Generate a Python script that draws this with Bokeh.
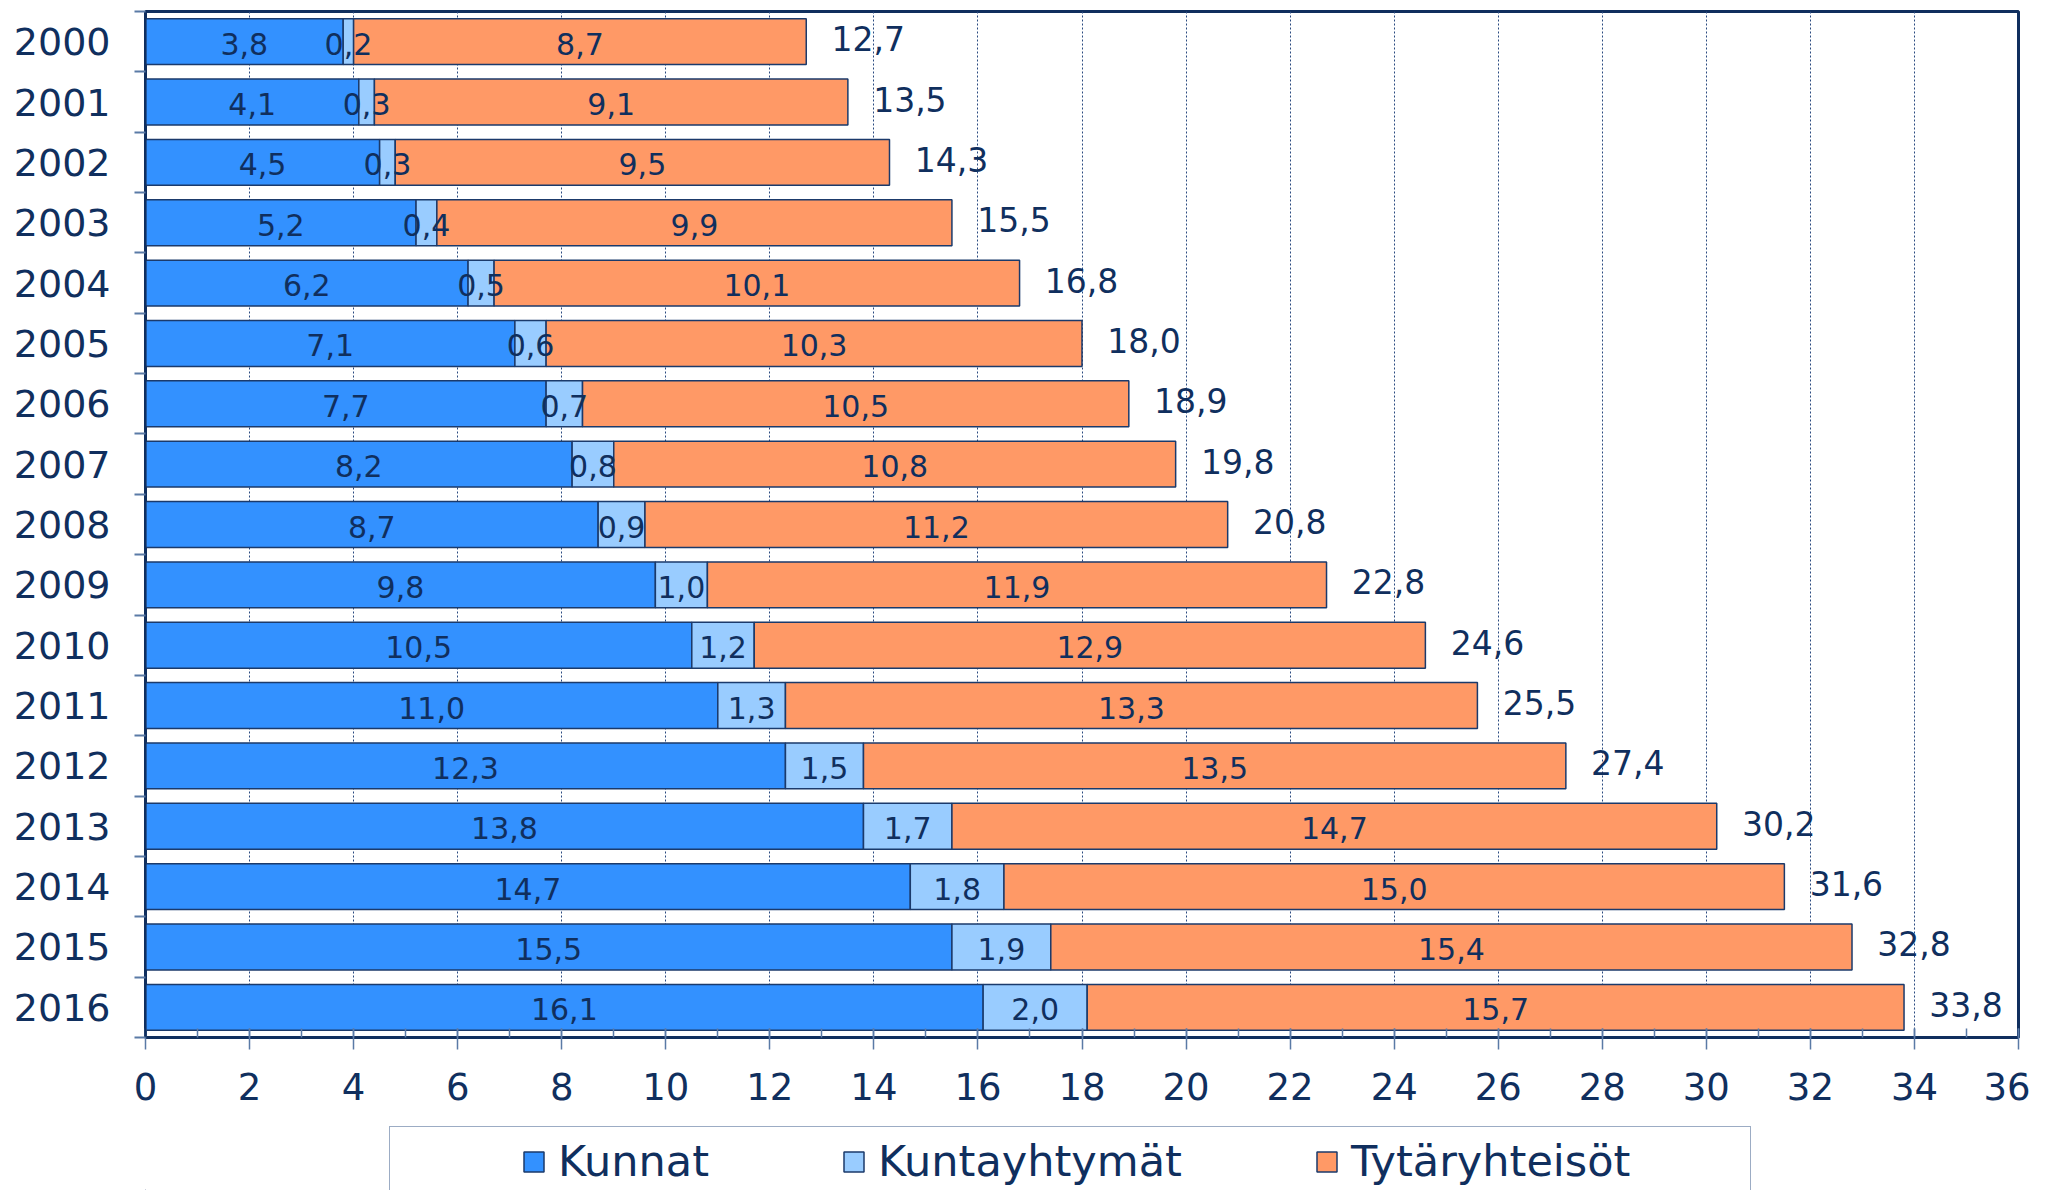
import numpy as np
from bokeh.plotting import figure
from bokeh.layouts import column
from bokeh.models import (ColumnDataSource, Range1d, FixedTicker, SingleIntervalTicker,
                          Legend, LegendItem)
from bokeh.embed import file_html
from bokeh.resources import INLINE
from bokeh.core.properties import value

# ---------------- data ----------------
years = ["2000", "2001", "2002", "2003", "2004", "2005", "2006", "2007", "2008",
         "2009", "2010", "2011", "2012", "2013", "2014", "2015", "2016"]
kunnat = [3.8, 4.1, 4.5, 5.2, 6.2, 7.1, 7.7, 8.2, 8.7, 9.8, 10.5, 11.0, 12.3, 13.8, 14.7, 15.5, 16.1]
kuntayhtymat = [0.2, 0.3, 0.3, 0.4, 0.5, 0.6, 0.7, 0.8, 0.9, 1.0, 1.2, 1.3, 1.5, 1.7, 1.8, 1.9, 2.0]
tytaryhteisot = [8.7, 9.1, 9.5, 9.9, 10.1, 10.3, 10.5, 10.8, 11.2, 11.9, 12.9, 13.3, 13.5, 14.7, 15.0, 15.4, 15.7]
totals = [12.7, 13.5, 14.3, 15.5, 16.8, 18.0, 18.9, 19.8, 20.8, 22.8, 24.6, 25.5, 27.4, 30.2, 31.6, 32.8, 33.8]
series_names = ["Kunnat", "Kuntayhtymät", "Tytäryhteisöt"]
series_colors = ["#3391FF", "#99CCFF", "#FF9966"]

FONT = "DejaVu Sans"
NAVY = "#102F5E"
OUTLINE = "#1B3A6B"
TICKC = "#5A7AA6"


def fmt(v):
    return f"{v:.1f}".replace(".", ",")


idx = list(range(len(years)))
src = ColumnDataSource(dict(y=idx, kunnat=kunnat, kuntayhtymat=kuntayhtymat,
                            tytaryhteisot=tytaryhteisot))

W = 2030
H1 = 1112
H2 = 78
FRAME_LEFT = 145
p = figure(width=W, height=H1, output_backend="svg", toolbar_location=None,
           x_range=Range1d(0, 36), y_range=Range1d(len(years) - 0.5, -0.5),
           min_border_left=FRAME_LEFT, min_border_right=12, min_border_top=11,
           min_border_bottom=H1 - 1037)
p.background_fill_color = "white"
p.border_fill_color = "white"
p.outline_line_color = NAVY
p.outline_line_width = 3

# x axis
xt = SingleIntervalTicker(interval=2, num_minor_ticks=2)
p.xaxis.ticker = xt
p.xgrid.ticker = xt
p.xgrid.grid_line_color = "#2A4A80"
p.xgrid.grid_line_dash = "2 2"
p.xgrid.grid_line_width = 1
p.ygrid.visible = False
xa = p.xaxis[0]
xa.axis_line_color = NAVY
xa.axis_line_width = 3
xa.major_tick_in = 9
xa.major_tick_out = 12
xa.minor_tick_in = 9
xa.minor_tick_out = 0
xa.major_tick_line_color = TICKC
xa.minor_tick_line_color = TICKC
xa.major_tick_line_width = 1.5
xa.minor_tick_line_width = 1.5
xa.major_label_text_font = FONT
xa.major_label_text_font_size = "37px"
xa.major_label_text_color = NAVY
xa.major_label_standoff = 23

# y axis (years)
ya = p.yaxis[0]
ya.ticker = FixedTicker(ticks=idx, minor_ticks=[i - 0.5 for i in range(len(years) + 1)])
ya.major_label_overrides = {i: y for i, y in zip(idx, years)}
ya.major_tick_in = 0
ya.major_tick_out = 0
ya.minor_tick_in = 0
ya.minor_tick_out = 11
ya.minor_tick_line_color = TICKC
ya.minor_tick_line_width = 2
ya.axis_line_color = NAVY
ya.axis_line_width = 2
ya.major_label_text_font = FONT
ya.major_label_text_font_size = "38px"
ya.major_label_text_color = NAVY
ya.major_label_standoff = 24

# bars
renderers = p.hbar_stack(["kunnat", "kuntayhtymat", "tytaryhteisot"], y="y", height=0.76,
                         fill_color=series_colors, line_color=OUTLINE, line_width=1.5,
                         source=src)

# segment labels
k = np.array(kunnat)
ky = np.array(kuntayhtymat)
t = np.array(tytaryhteisot)
c2 = k + ky
c3 = c2 + t
seg_x = np.concatenate([k / 2, k + ky / 2, c2 + t / 2])
seg_y = idx * 3
seg_text = [fmt(v) for v in np.concatenate([k, ky, t])]
p.text(x=seg_x, y=seg_y, text=seg_text, text_align="center", text_baseline="middle",
       y_offset=2, text_font=value(FONT), text_font_size="30px", text_color=NAVY)

# total labels
p.text(x=c3, y=idx, text=[fmt(v) for v in totals], text_align="center",
       text_baseline="middle", x_offset=62, y_offset=-3, text_font=value(FONT),
       text_font_size="33px", text_color=NAVY)

# ---------------- legend strip ----------------
p2 = figure(width=W, height=H2, output_backend="svg", toolbar_location=None,
            x_range=Range1d(0, 1), y_range=Range1d(0, 1),
            x_axis_location=None, y_axis_location=None,
            min_border_left=FRAME_LEFT, min_border_right=12, min_border_top=0,
            min_border_bottom=0)
p2.outline_line_color = None
p2.grid.visible = False
p2.background_fill_color = "white"
p2.border_fill_color = "white"

# legend proxies: one off-frame point each, never visible in the strip
dummy = p2.scatter(x=[-5], y=[-5], fill_alpha=0, line_alpha=0)
box = Legend(items=[LegendItem(label=" ", renderers=[dummy])],
             location=(389 - FRAME_LEFT, H2 - 200 - 16),
             padding=0, margin=0, glyph_width=1, glyph_height=200, label_width=1359,
             label_standoff=0, border_line_color="#3A5A8A", border_line_width=1.5,
             background_fill_color="white", background_fill_alpha=1.0,
             label_text_font_size="10px")
p2.add_layout(box, "center")

leg_renderers = [p2.hbar(y=[-5], left=[-5], right=[-4], height=0.5, fill_color=c,
                         line_color=OUTLINE, line_width=1.5) for c in series_colors]
items = [LegendItem(label=n, renderers=[r]) for n, r in zip(series_names, leg_renderers)]
leg = Legend(items=items, location=(511 - FRAME_LEFT, H2 - 70 - 14), orientation="horizontal",
             padding=10, margin=0, glyph_width=25, glyph_height=25, label_standoff=12,
             label_height=50, spacing=132, border_line_alpha=0, background_fill_alpha=0,
             label_text_font=FONT, label_text_font_size="43px", label_text_color=NAVY)
p2.add_layout(leg, "center")

layout = column(p, p2, spacing=0)
open("out.html", "w").write(file_html(layout, INLINE))
